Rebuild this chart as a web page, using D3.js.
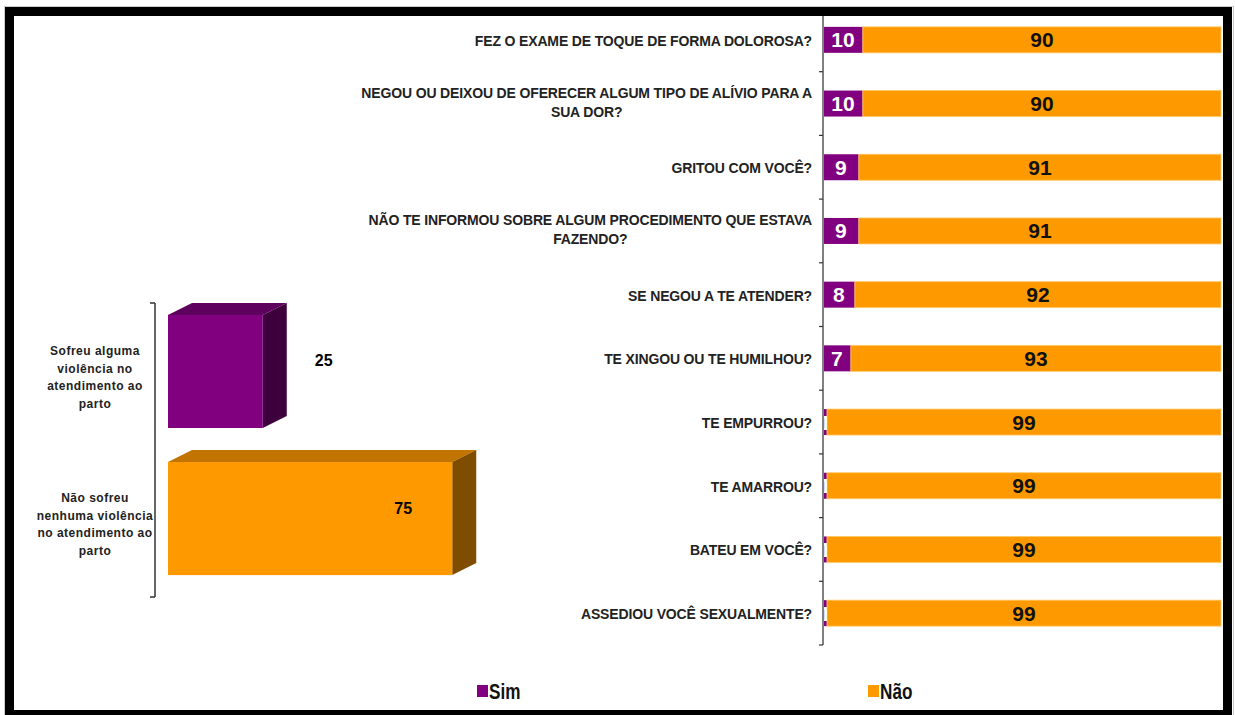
<!DOCTYPE html>
<html>
<head>
<meta charset="utf-8">
<script src="https://cdn.jsdelivr.net/npm/d3@7"></script>
<style>
  body { margin: 0; background: #fff; }
  svg { display: block; font-family: "Liberation Sans", Arial, sans-serif; }
</style>
</head>
<body>
<div id="chart"></div>
<script>
// left summary chart
var resumoCategorias = [
  ["Sofreu alguma", "violência no", "atendimento ao", "parto"],
  ["Não sofreu", "nenhuma violência", "no atendimento ao", "parto"]
];
var resumoValores = [25, 75];

// right detail chart
var perguntas = [
  ["FEZ O EXAME DE TOQUE DE FORMA DOLOROSA?"],
  ["NEGOU OU DEIXOU DE OFERECER ALGUM TIPO DE ALÍVIO PARA A", "SUA DOR?"],
  ["GRITOU COM VOCÊ?"],
  ["NÃO TE INFORMOU SOBRE ALGUM PROCEDIMENTO QUE ESTAVA", "FAZENDO?"],
  ["SE NEGOU A TE ATENDER?"],
  ["TE XINGOU OU TE HUMILHOU?"],
  ["TE EMPURROU?"],
  ["TE AMARROU?"],
  ["BATEU EM VOCÊ?"],
  ["ASSEDIOU VOCÊ SEXUALMENTE?"]
];
var sim = [10, 10, 9, 9, 8, 7, 1, 1, 1, 1];
var nao = [90, 90, 91, 91, 92, 93, 99, 99, 99, 99];

var series = ["Sim", "Não"];

var width = 1235, height = 715;
var purple = "#800080", orange = "#ff9900";

var svg = d3.select("#chart").append("svg")
  .attr("width", width)
  .attr("height", height);

// ---------- left 3D bars ----------
var depthX = 24, depthY = 12;
var leftIdx = d3.range(resumoValores.length);

var yl = d3.scaleBand().domain(leftIdx).range([303, 597])
  .paddingInner(0.231).paddingOuter(0.115);
var xl = d3.scaleLinear().domain([0, 100]).range([168, 547]);

var faces = [
  { front: purple, top: "#5e005e", side: "#3d003d" },
  { front: orange, top: "#c27400", side: "#7f4c00" }
];

var lg = svg.append("g").attr("class", "resumo");

function frontY(i){ return yl(i) - depthY / 2 + 1; }

leftIdx.forEach(function(i){
  var x0 = xl(0), x1 = xl(resumoValores[i]);
  var y0 = frontY(i), h = yl.bandwidth();
  var g = lg.append("g");
  g.append("path")
    .attr("d", "M" + x0 + "," + y0 + "L" + (x0 + depthX) + "," + (y0 - depthY) +
      "L" + (x1 + depthX) + "," + (y0 - depthY) + "L" + x1 + "," + y0 + "Z")
    .attr("fill", faces[i].top);
  g.append("path")
    .attr("d", "M" + x1 + "," + y0 + "L" + (x1 + depthX) + "," + (y0 - depthY) +
      "L" + (x1 + depthX) + "," + (y0 + h - depthY) + "L" + x1 + "," + (y0 + h) + "Z")
    .attr("fill", faces[i].side);
  g.append("rect")
    .attr("x", x0).attr("y", y0)
    .attr("width", x1 - x0).attr("height", h)
    .attr("fill", faces[i].front);
});

// value labels (Excel put one outside, one inside)
var resumoLabelDx = [61, -49];
lg.selectAll("text.val")
  .data(leftIdx)
  .enter().append("text")
  .attr("class", "val")
  .attr("x", function(i){ return xl(resumoValores[i]) + resumoLabelDx[i]; })
  .attr("y", function(i){ return frontY(i) + yl.bandwidth() / 2 - 5; })
  .attr("text-anchor", "middle")
  .attr("font-size", 16).attr("font-weight", "bold")
  .text(function(i){ return resumoValores[i]; });

// left axis
lg.append("line")
  .attr("x1", 155).attr("x2", 155)
  .attr("y1", yl.range()[0]).attr("y2", yl.range()[1])
  .attr("stroke", "#333").attr("stroke-width", 1.5);
[yl.range()[0], yl.range()[1]].forEach(function(yy){
  lg.append("line").attr("x1", 150).attr("x2", 155)
    .attr("y1", yy).attr("y2", yy)
    .attr("stroke", "#333").attr("stroke-width", 1.5);
});

leftIdx.forEach(function(i){
  var lines = resumoCategorias[i];
  var cy = yl(i) + yl.bandwidth() / 2 + 1;
  var t = lg.append("text")
    .attr("text-anchor", "middle")
    .attr("font-size", 12).attr("font-weight", "bold")
    .attr("letter-spacing", "0.5px")
    .attr("fill", "#222");
  lines.forEach(function(s, k){
    t.append("tspan")
      .attr("x", 95)
      .attr("y", cy + (k - (lines.length - 1) / 2) * 17.6 + 4)
      .text(s);
  });
});

// ---------- right stacked bars ----------
var rightIdx = d3.range(perguntas.length);
var yr = d3.scaleBand().domain(rightIdx).range([8, 645])
  .paddingInner(0.592).paddingOuter(0.296);
var xr = d3.scaleLinear().domain([0, 100]).range([823, 1221]);

var rg = svg.append("g").attr("class", "detalhe");
var defs = svg.append("defs");

rightIdx.forEach(function(i){
  var y = yr(i), h = yr.bandwidth();
  defs.append("clipPath").attr("id", "clipSim" + i)
    .append("rect")
    .attr("x", xr(0)).attr("y", y)
    .attr("width", xr(sim[i]) - xr(0)).attr("height", h);

  rg.append("rect")
    .attr("x", xr(0)).attr("y", y)
    .attr("width", xr(sim[i]) - xr(0)).attr("height", h)
    .attr("fill", purple);
  rg.append("rect")
    .attr("x", xr(sim[i])).attr("y", y)
    .attr("width", xr(sim[i] + nao[i]) - xr(sim[i])).attr("height", h)
    .attr("fill", orange)
    .attr("stroke", "#ffc966").attr("stroke-width", 0.8);

  rg.append("text")
    .attr("clip-path", "url(#clipSim" + i + ")")
    .attr("x", (xr(0) + xr(sim[i])) / 2)
    .attr("y", y + h / 2 + 7.5)
    .attr("text-anchor", "middle")
    .attr("font-size", 21).attr("font-weight", "bold")
    .attr("fill", "#fff")
    .text(sim[i]);
  rg.append("text")
    .attr("x", (xr(sim[i]) + xr(sim[i] + nao[i])) / 2)
    .attr("y", y + h / 2 + 7.5)
    .attr("text-anchor", "middle")
    .attr("font-size", 21).attr("font-weight", "bold")
    .attr("fill", "#111")
    .text(nao[i]);

  // category label
  var lines = perguntas[i];
  var cy = y + h / 2;
  if (lines.length === 1) {
    rg.append("text")
      .attr("x", 812).attr("y", cy + 6)
      .attr("text-anchor", "end")
      .attr("font-size", 14).attr("font-weight", "bold")
      .attr("letter-spacing", "-0.15px")
      .attr("fill", "#222")
      .text(lines[0]);
  } else {
    var t = rg.append("text")
      .attr("text-anchor", "middle")
      .attr("font-size", 14).attr("font-weight", "bold")
      .attr("letter-spacing", "-0.15px")
      .attr("fill", "#222");
    var first = t.append("tspan").attr("x", 0).attr("y", cy - 5.5).text(lines[0]);
    var w = first.node().getComputedTextLength();
    var cx = 812 - w / 2;
    first.attr("x", cx);
    t.append("tspan").attr("x", cx).attr("y", cy + 13.5).text(lines[1]);
  }
});

// right axis
rg.append("line")
  .attr("x1", xr(0)).attr("x2", xr(0))
  .attr("y1", yr.range()[0]).attr("y2", yr.range()[1])
  .attr("stroke", "#808080").attr("stroke-width", 2);
d3.range(perguntas.length + 1).forEach(function(k){
  var yy = yr.range()[0] + k * yr.step();
  rg.append("line").attr("x1", xr(0) - 4).attr("x2", xr(0))
    .attr("y1", yy).attr("y2", yy)
    .attr("stroke", "#333").attr("stroke-width", 1.2);
});

// ---------- legend ----------
var legendPos = [477, 868];
var leg = svg.append("g").attr("class", "legenda");
series.forEach(function(s, i){
  leg.append("rect")
    .attr("x", legendPos[i]).attr("y", 685)
    .attr("width", 11).attr("height", 12)
    .attr("fill", i === 0 ? purple : orange);
  leg.append("text")
    .attr("transform", "translate(" + (legendPos[i] + 12) + ",698.5) scale(0.78,1)")
    .attr("font-size", 22).attr("font-weight", "bold")
    .attr("fill", "#111")
    .text(s);
});

// ---------- frame ----------
svg.append("rect")
  .attr("x", 4.5).attr("y", 6.5)
  .attr("width", 1229).attr("height", 712)
  .attr("fill", "none").attr("stroke", "#ccc").attr("stroke-width", 1);
svg.append("rect")
  .attr("x", 9.5).attr("y", 11.5)
  .attr("width", 1218).attr("height", 703)
  .attr("fill", "none").attr("stroke", "#000").attr("stroke-width", 9);
</script>
</body>
</html>
